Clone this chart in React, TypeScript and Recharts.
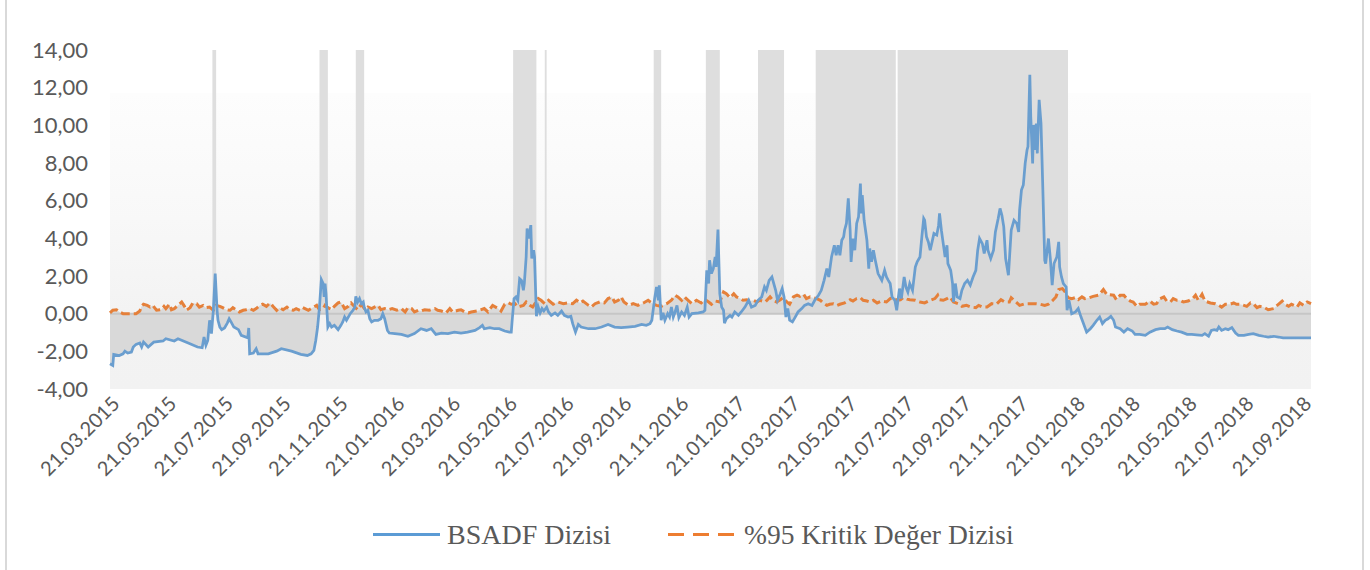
import {
  ComposedChart,
  Area,
  Line,
  XAxis,
  YAxis,
  CartesianGrid,
  ReferenceArea,
  ReferenceLine,
} from "recharts";

// day offsets are counted from 21.03.2015
const START = Date.UTC(2015, 2, 21);
const LAST_DAY = 1290;

const tickLabels = [
  "21.03.2015", "21.05.2015", "21.07.2015", "21.09.2015", "21.11.2015",
  "21.01.2016", "21.03.2016", "21.05.2016", "21.07.2016", "21.09.2016",
  "21.11.2016", "21.01.2017", "21.03.2017", "21.05.2017", "21.07.2017",
  "21.09.2017", "21.11.2017", "21.01.2018", "21.03.2018", "21.05.2018",
  "21.07.2018", "21.09.2018",
];

const yTicks = [-4, -2, 0, 2, 4, 6, 8, 10, 12, 14];

// bubble periods (start day, end day)
const bubblePeriods: [number, number][] = [
  [110, 114], [225, 234], [264, 273], [433, 458], [467, 469],
  [584, 592], [640, 655], [696, 724], [758, 844], [846, 1029],
];

// BSADF series: [day, value]
const bsadf: [number, number][] = [
  [0, -2.66], [3, -2.75], [4, -2.16], [10, -2.22], [14, -2.13], [16, -1.99], [19, -2.09], [23, -2.04],
  [25, -1.77], [28, -1.63], [32, -1.56], [34, -1.77], [36, -1.51], [41, -1.77], [47, -1.51], [57, -1.45],
  [60, -1.33], [69, -1.45], [73, -1.33], [84, -1.56], [94, -1.77], [99, -1.81], [101, -1.24], [103, -1.68],
  [105, -1.42], [107, -0.35], [109, -1.06], [111, 0.18], [113, 2.13], [115, 0.18], [116, -0.35], [118, -0.71],
  [120, -0.85], [123, -0.76], [126, -0.5], [128, -0.27], [130, -0.44], [133, -0.71], [138, -0.85], [141, -1.15],
  [148, -1.28], [149, -0.76], [150, -2.13], [154, -2.09], [157, -1.86], [159, -2.13], [170, -2.13], [179, -1.99],
  [184, -1.86], [195, -1.99], [205, -2.16], [212, -2.22], [216, -2.13], [219, -1.95], [221, -1.42], [223, -0.71],
  [225, 0.35], [227, 1.81], [229, 1.6], [230, 0.89], [231, 1.6], [232, 1.06], [234, -0.71], [236, -0.53],
  [238, -0.71], [241, -0.62], [245, -0.85], [248, -0.62], [250, -0.44], [252, -0.18], [254, -0.35], [256, -0.18],
  [258, 0], [261, 0.18], [263, 0.35], [264, 0.92], [266, 0.62], [268, 0.8], [270, 0.53], [272, 0.62],
  [273, 0.35], [275, 0.09], [277, 0.18], [279, -0.27], [281, -0.44], [284, -0.35], [288, -0.35], [291, -0.27],
  [293, 0], [295, -0.27], [298, -0.89], [300, -1.03], [306, -1.06], [313, -1.1], [320, -1.2], [327, -1.06],
  [334, -0.8], [340, -0.89], [345, -0.8], [350, -1.1], [356, -1.03], [363, -1.06], [370, -0.98], [377, -1.03],
  [384, -0.98], [392, -0.89], [397, -0.74], [400, -0.62], [402, -0.8], [408, -0.74], [413, -0.8], [418, -0.8],
  [424, -0.92], [429, -0.98], [431, -0.98], [432, -0.35], [434, 0.8], [436, 0.89], [438, 0.71], [440, 1.86],
  [442, 1.77], [444, 1.24], [445, 1.6], [447, 3.01], [448, 4.52], [450, 3.99], [452, 4.7], [453, 2.93],
  [455, 3.37], [456, 3.01], [458, -0.14], [460, 0.35], [462, 0.04], [464, 0.27], [466, 0.14], [469, 0.35],
  [471, 0.09], [474, -0.09], [478, 0.04], [481, -0.09], [485, 0.14], [488, -0.09], [492, -0.18], [495, -0.14],
  [497, -0.53], [500, -0.98], [503, -0.57], [506, -0.71], [514, -0.8], [521, -0.8], [528, -0.71], [535, -0.57],
  [542, -0.71], [549, -0.74], [556, -0.71], [564, -0.67], [571, -0.57], [576, -0.62], [580, -0.53], [582, -0.35],
  [585, 0.8], [587, 1.42], [589, 0.71], [590, 1.51], [592, -0.35], [594, 0.04], [596, -0.35], [599, 0],
  [601, -0.18], [603, 0.35], [605, -0.18], [607, 0.09], [609, 0.44], [611, -0.21], [614, 0.09], [617, -0.09],
  [620, 0.35], [622, -0.18], [625, 0], [632, 0.04], [637, 0.09], [639, 0.18], [641, 2.3], [643, 1.6],
  [644, 2.84], [646, 2.13], [648, 2.39], [650, 3.01], [651, 2.48], [653, 4.47], [655, 1.06], [657, 0.35],
  [659, 0.18], [660, -0.5], [662, -0.27], [666, -0.09], [668, -0.18], [671, 0.09], [675, -0.09], [678, 0.09],
  [682, 0.35], [686, 0.71], [689, 0.35], [693, 0.44], [696, 0.71], [700, 0.89], [703, 1.42], [705, 1.24],
  [708, 1.77], [711, 1.95], [712, 1.77], [715, 1.24], [717, 0.71], [720, 1.06], [722, 1.33], [724, 0.89],
  [726, -0.18], [728, 0.27], [730, -0.35], [733, -0.44], [736, -0.18], [739, 0.09], [743, 0.27], [746, 0.44],
  [750, 0.53], [754, 0.44], [757, 0.71], [761, 0.98], [764, 1.24], [767, 1.77], [770, 2.39], [772, 1.95],
  [775, 3.01], [778, 3.63], [780, 3.1], [782, 3.63], [784, 3.1], [786, 3.9], [788, 4.08], [789, 4.43],
  [791, 4.79], [793, 6.12], [795, 4.43], [796, 2.75], [798, 3.99], [800, 3.37], [802, 4.79], [804, 5.14],
  [806, 6.91], [807, 5.32], [808, 6.29], [810, 4.96], [813, 3.9], [815, 2.39], [816, 3.46], [818, 2.75],
  [820, 3.37], [822, 2.84], [825, 2.13], [829, 1.77], [832, 2.3], [834, 1.95], [836, 1.77], [838, 1.6],
  [840, 0.89], [843, 0.71], [845, 0.18], [848, 1.33], [850, 0.8], [853, 1.95], [855, 1.4], [857, 1.15],
  [859, 1.6], [862, 1.24], [865, 2.48], [867, 2.75], [870, 3.01], [872, 4.08], [874, 5.05], [875, 4.96],
  [877, 4.08], [879, 3.81], [881, 3.37], [883, 3.81], [885, 4.26], [888, 4.17], [890, 4.7], [891, 5.32],
  [893, 4.43], [895, 3.72], [897, 3.01], [899, 3.63], [900, 2.66], [903, 2.3], [905, 1.6], [906, 0.62],
  [908, 1.6], [910, 0.89], [913, 0.8], [915, 1.24], [918, 1.6], [921, 1.77], [924, 1.51], [927, 1.95],
  [930, 2.3], [932, 3.37], [934, 3.99], [937, 3.72], [939, 3.19], [942, 3.9], [943, 3.37], [946, 2.93],
  [949, 3.37], [951, 4.34], [954, 5.05], [956, 5.59], [958, 5.23], [960, 4.61], [962, 2.93], [965, 2.04],
  [968, 4.43], [969, 4.61], [971, 4.96], [974, 4.79], [976, 4.34], [977, 5.5], [979, 6.56], [981, 6.83],
  [983, 7.98], [985, 8.69], [986, 8.87], [988, 12.68], [989, 10.46], [991, 7.98], [992, 10.02], [994, 8.69],
  [995, 10.1], [996, 8.51], [998, 11.35], [1000, 10.1], [1002, 6.56], [1004, 2.84], [1005, 2.66], [1008, 3.99],
  [1010, 2.93], [1012, 1.51], [1014, 2.66], [1017, 3.01], [1019, 3.81], [1020, 2.48], [1022, 1.95], [1024, 1.6],
  [1027, 1.42], [1028, 0.18], [1030, 0.71], [1033, 0], [1037, 0.09], [1040, 0.27], [1043, -0.18], [1045, -0.44],
  [1049, -0.98], [1053, -0.8], [1056, -0.62], [1060, -0.35], [1063, -0.18], [1066, -0.53], [1069, -0.35], [1072, -0.27],
  [1075, -0.14], [1078, -0.35], [1080, -0.71], [1085, -0.8], [1089, -0.98], [1093, -0.8], [1098, -0.92], [1101, -1.1],
  [1106, -1.1], [1112, -1.15], [1117, -0.98], [1123, -0.85], [1128, -0.8], [1133, -0.8], [1136, -0.71], [1141, -0.85],
  [1146, -0.92], [1151, -0.98], [1157, -1.1], [1162, -1.1], [1167, -1.12], [1173, -1.15], [1176, -1.06], [1180, -1.2],
  [1183, -0.89], [1186, -0.85], [1189, -0.89], [1191, -0.71], [1194, -0.89], [1198, -0.8], [1201, -0.85], [1205, -0.74],
  [1209, -1.03], [1212, -1.15], [1218, -1.15], [1223, -1.1], [1228, -1.06], [1234, -1.15], [1239, -1.2], [1244, -1.24],
  [1250, -1.2], [1255, -1.24], [1260, -1.29], [1268, -1.28], [1273, -1.29], [1280, -1.28], [1290, -1.29],
];

// %95 critical value series: [day, value]
const critical: [number, number][] = [
  [0, 0.04], [3, 0.18], [7, 0.21], [10, 0.09], [14, 0], [28, 0], [32, 0.14], [34, 0.39],
  [36, 0.5], [40, 0.44], [43, 0.35], [46, 0.44], [50, 0.18], [55, 0.21], [58, 0.39], [60, 0.27],
  [64, 0.5], [66, 0.21], [69, 0.27], [73, 0.44], [77, 0.62], [80, 0.39], [82, 0.18], [86, 0.32],
  [89, 0.57], [93, 0.53], [96, 0.35], [100, 0.44], [103, 0.32], [107, 0.35], [111, 0.18], [114, 0.44],
  [118, 0.39], [121, 0.32], [125, 0.21], [129, 0.18], [132, 0.32], [136, 0.18], [139, 0.09], [143, 0.18],
  [146, 0.21], [150, 0.27], [154, 0.18], [157, 0.27], [161, 0.44], [164, 0.5], [168, 0.39], [172, 0.57],
  [175, 0.39], [179, 0.18], [182, 0.32], [186, 0.21], [190, 0.35], [193, 0.21], [197, 0.18], [200, 0.27],
  [204, 0.18], [207, 0.32], [210, 0.25], [213, 0.18], [216, 0.27], [222, 0.44], [225, 0.21], [229, 0.27],
  [231, 0.44], [234, 0.32], [238, 0.21], [241, 0.39], [245, 0.57], [248, 0.62], [252, 0.27], [256, 0.39],
  [259, 0.57], [263, 0.35], [266, 0.21], [270, 0.5], [274, 0.21], [277, 0.35], [281, 0.27], [284, 0.35],
  [288, 0.44], [291, 0.21], [295, 0.27], [299, 0.21], [303, 0.27], [308, 0.18], [313, 0.27], [317, 0.09],
  [320, 0.32], [324, 0.27], [327, 0.09], [331, 0.18], [334, 0.14], [338, 0.21], [343, 0.18], [349, 0.27],
  [352, 0.18], [356, 0.14], [361, 0.04], [365, 0.27], [368, 0.09], [374, 0.18], [377, 0.21], [381, 0.09],
  [385, 0.04], [388, 0.09], [394, 0.14], [397, 0.18], [402, 0.27], [406, 0.09], [411, 0.44], [417, 0.27],
  [420, 0.14], [424, 0.5], [428, 0.57], [431, 0.5], [435, 0.53], [438, 0.35], [444, 0.44], [447, 0.62],
  [451, 0.44], [454, 0.35], [460, 0.8], [463, 0.71], [467, 0.53], [471, 0.71], [476, 0.5], [481, 0.62],
  [487, 0.53], [492, 0.57], [497, 0.53], [501, 0.71], [505, 0.57], [508, 0.67], [514, 0.44], [517, 0.35],
  [521, 0.53], [526, 0.62], [531, 0.57], [535, 0.8], [539, 0.89], [542, 0.62], [546, 0.71], [549, 0.89],
  [552, 0.62], [557, 0.44], [562, 0.53], [567, 0.44], [573, 0.57], [578, 0.71], [583, 0.53], [587, 0.44],
  [592, 0.39], [598, 0.53], [603, 0.71], [607, 0.98], [610, 0.89], [614, 0.71], [617, 0.89], [621, 0.71],
  [625, 0.53], [630, 0.71], [635, 0.57], [639, 0.75], [643, 0.62], [646, 0.5], [650, 0.67], [655, 0.62],
  [659, 1.15], [662, 1.06], [666, 0.85], [670, 1.06], [673, 0.89], [677, 0.8], [680, 0.71], [684, 0.74],
  [687, 0.67], [691, 0.71], [695, 0.62], [698, 0.71], [704, 0.62], [709, 0.89], [712, 0.71], [716, 0.62],
  [720, 0.74], [723, 0.85], [727, 0.62], [730, 0.5], [734, 0.89], [738, 0.98], [741, 0.92], [745, 1.03],
  [748, 0.8], [752, 0.89], [755, 0.85], [759, 0.8], [763, 0.71], [766, 0.57], [770, 0.44], [773, 0.5],
  [777, 0.53], [781, 0.44], [784, 0.5], [789, 0.57], [795, 0.74], [798, 0.67], [802, 0.8], [806, 0.85],
  [809, 0.71], [813, 0.67], [816, 0.62], [820, 0.71], [824, 0.57], [829, 0.67], [834, 0.62], [838, 0.8],
  [841, 0.85], [845, 0.71], [849, 0.74], [852, 0.85], [856, 0.77], [859, 0.74], [865, 0.71], [870, 0.62],
  [875, 0.57], [881, 0.71], [886, 0.8], [889, 0.98], [891, 0.74], [895, 0.71], [899, 0.8], [902, 0.89],
  [906, 0.62], [911, 0.53], [915, 0.39], [920, 0.44], [925, 0.35], [930, 0.32], [933, 0.44], [937, 0.35],
  [942, 0.35], [947, 0.53], [952, 0.5], [957, 0.74], [961, 0.62], [966, 0.62], [968, 0.85], [972, 0.67],
  [977, 0.44], [983, 0.53], [988, 0.53], [994, 0.53], [999, 0.5], [1004, 0.44], [1008, 0.5], [1012, 0.67],
  [1016, 0.89], [1019, 1.28], [1023, 1.33], [1026, 1.15], [1029, 0.85], [1033, 0.8], [1037, 0.85], [1040, 0.74],
  [1044, 0.89], [1047, 0.8], [1052, 0.85], [1056, 0.92], [1062, 0.98], [1067, 1.28], [1071, 1.0], [1074, 1.0],
  [1078, 0.98], [1081, 0.74], [1085, 0.98], [1089, 0.98], [1092, 0.8], [1096, 0.67], [1099, 0.62], [1103, 0.39],
  [1106, 0.5], [1112, 0.5], [1117, 0.67], [1121, 0.5], [1124, 0.53], [1128, 0.8], [1132, 0.89], [1135, 0.67],
  [1139, 0.62], [1142, 0.8], [1146, 0.71], [1149, 0.71], [1153, 0.62], [1158, 0.67], [1163, 0.8], [1166, 0.98],
  [1169, 0.71], [1173, 1.03], [1176, 0.67], [1182, 0.57], [1187, 0.53], [1191, 0.44], [1194, 0.35], [1198, 0.5],
  [1203, 0.5], [1207, 0.57], [1210, 0.5], [1214, 0.5], [1218, 0.44], [1221, 0.39], [1225, 0.57], [1228, 0.53],
  [1232, 0.32], [1235, 0.39], [1239, 0.35], [1244, 0.21], [1250, 0.27], [1255, 0.5], [1259, 0.67], [1262, 0.5],
  [1266, 0.39], [1269, 0.5], [1275, 0.35], [1278, 0.57], [1282, 0.44], [1286, 0.62], [1290, 0.53],
];

const dayOf = (label: string) => {
  const [d, m, y] = label.split(".").map(Number);
  return Math.round((Date.UTC(y, m - 1, d) - START) / 86400000);
};

const tickDays = tickLabels.map(dayOf);
const labelByDay = new Map(tickDays.map((d, i) => [d, tickLabels[i]]));

// merge both series into one table keyed by day
type Row = { day: number; bsadf?: number; cv?: number };
const rowMap = new Map<number, Row>();
for (const [day, v] of bsadf) rowMap.set(day, { ...(rowMap.get(day) || { day }), bsadf: v });
for (const [day, v] of critical) rowMap.set(day, { ...(rowMap.get(day) || { day }), cv: v });
const rows = [...rowMap.values()].sort((a, b) => a.day - b.day);

const FONT = "Lato, 'Open Sans', sans-serif";
const TEXT = "#595959";

function DateTick({ x, y, payload }: any) {
  const ax = x + 11;
  const ay = y + 16;
  return (
    <text
      x={ax}
      y={ay}
      textAnchor="end"
      transform={`rotate(-45, ${ax}, ${ay})`}
      fill={TEXT}
      fontSize={20}
      fontFamily={FONT}
    >
      {labelByDay.get(payload.value)}
    </text>
  );
}

export default function App() {
  return (
    <div
      style={{
        position: "absolute",
        left: 0,
        top: 0,
        width: 1370,
        height: 570,
        background: "#fff",
        overflow: "hidden",
      }}
    >
      <svg width={0} height={0} style={{ position: "absolute" }}>
        <defs>
          <linearGradient id="plotBg" x1="0" y1="0" x2="0" y2="1">
            <stop offset="0" stopColor="#ffffff" />
            <stop offset="0.126" stopColor="#ffffff" />
            <stop offset="0.128" stopColor="#fdfdfd" />
            <stop offset="0.5" stopColor="#f8f8f8" />
            <stop offset="0.77" stopColor="#f3f3f3" />
            <stop offset="1" stopColor="#f2f2f2" />
          </linearGradient>
        </defs>
      </svg>

      <ComposedChart
        width={1370}
        height={570}
        data={rows}
        margin={{ top: 50, right: 59, bottom: 81, left: 10 }}
      >
        <CartesianGrid horizontal={false} vertical={false} fill="url(#plotBg)" stroke="none" />
        <XAxis
          dataKey="day"
          type="number"
          domain={[0, LAST_DAY]}
          ticks={tickDays}
          interval={0}
          height={100}
          axisLine={false}
          tickLine={false}
          tickSize={0}
          tickMargin={0}
          tick={<DateTick />}
        />
        <YAxis
          type="number"
          domain={[-4, 14]}
          ticks={yTicks}
          interval={0}
          width={100}
          axisLine={false}
          tickLine={false}
          tickSize={0}
          tickMargin={22}
          tickFormatter={(v: number) => v.toFixed(2).replace(".", ",")}
          tick={{ fill: TEXT, fontSize: 22, fontFamily: FONT }}
        />
        {bubblePeriods.map(([a, b], i) => (
          <ReferenceArea
            key={i}
            x1={a}
            x2={b}
            y1={0}
            y2={14}
            fill="#dedede"
            fillOpacity={1}
            stroke="none"
            ifOverflow="visible"
          />
        ))}
        <Area
          dataKey="cv"
          baseValue={0}
          fill="#dadada"
          fillOpacity={1}
          stroke="none"
          connectNulls
          isAnimationActive={false}
        />
        <Area
          dataKey="bsadf"
          baseValue={0}
          fill="#d9d9d9"
          fillOpacity={1}
          stroke="none"
          connectNulls
          isAnimationActive={false}
        />
        <ReferenceLine y={0} stroke="#c6c6c6" strokeWidth={2} />
        <Line
          dataKey="cv"
          stroke="#E5803A"
          strokeWidth={3}
          strokeDasharray="9 4"
          dot={false}
          activeDot={false}
          connectNulls
          isAnimationActive={false}
        />
        <Line
          dataKey="bsadf"
          stroke="#6A9ECF"
          strokeWidth={2.75}
          dot={false}
          activeDot={false}
          connectNulls
          isAnimationActive={false}
        />
      </ComposedChart>

      {/* legend */}
      <div style={{ position: "absolute", left: 373, top: 533, width: 67, height: 3, background: "#5B9BD5" }} />
      <div
        style={{
          position: "absolute",
          left: 447,
          top: 518,
          fontFamily: "'Liberation Serif', serif",
          fontSize: 28,
          lineHeight: "34px",
          color: TEXT,
          whiteSpace: "nowrap",
        }}
      >
        BSADF Dizisi
      </div>
      <svg style={{ position: "absolute", left: 668, top: 532 }} width={68} height={5}>
        <line x1={0} y1={2.5} x2={68} y2={2.5} stroke="#ED7D31" strokeWidth={3} strokeDasharray="16 9" />
      </svg>
      <div
        style={{
          position: "absolute",
          left: 744,
          top: 518,
          fontFamily: "'Liberation Serif', serif",
          fontSize: 27.5,
          lineHeight: "34px",
          color: TEXT,
          whiteSpace: "nowrap",
        }}
      >
        %95 Kritik Değer Dizisi
      </div>

      {/* chart frame */}
      <div style={{ position: "absolute", left: 5, top: 0, width: 2, height: 570, background: "#d9d9d9" }} />
      <div style={{ position: "absolute", left: 1362, top: 0, width: 2, height: 570, background: "#d9d9d9" }} />
    </div>
  );
}
